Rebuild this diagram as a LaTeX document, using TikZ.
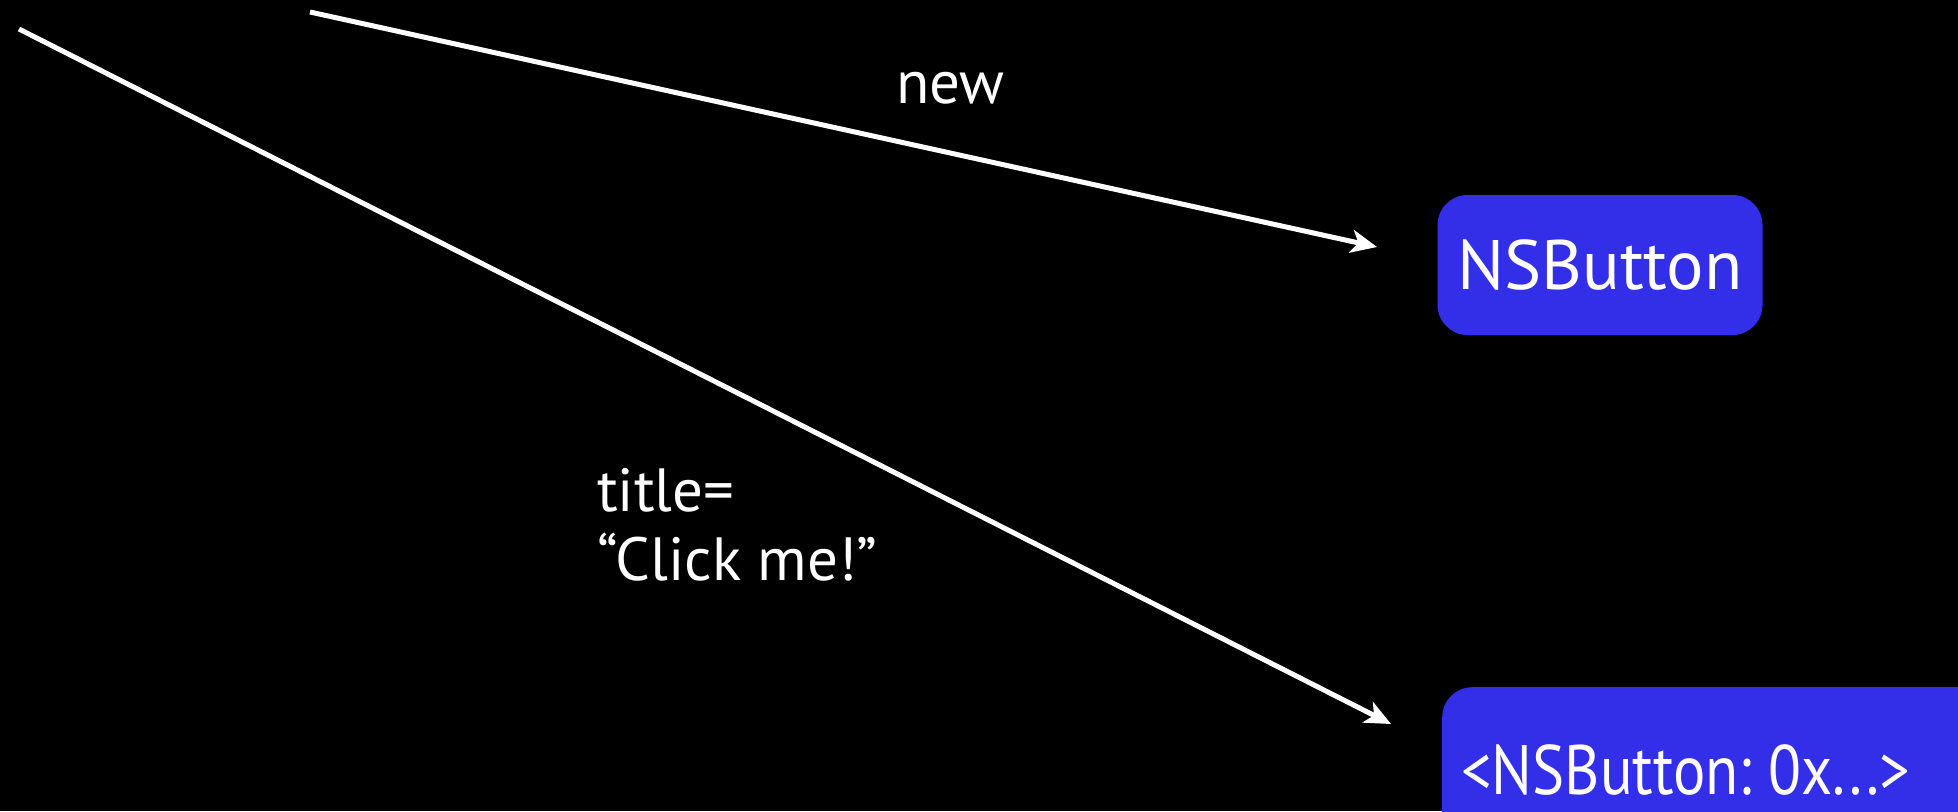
\documentclass[tikz,border=0pt]{standalone}
\usepackage{fontspec}
\usepackage{graphicx}
\setmainfont{PT Sans}
\usetikzlibrary{arrows.meta}
\definecolor{boxblue}{RGB}{51,46,232}
\begin{document}
\begin{tikzpicture}[x=1pt,y=-1pt,
  conn/.style={draw=white,line width=5pt,-{Stealth[length=26pt,width=23pt,inset=7pt]}},
  objbox/.style={fill=boxblue,rounded corners=30pt,text=white,inner sep=0pt},
  lbl/.style={text=white,inner sep=0pt,font=\fontsize{61}{69}\selectfont}]
\useasboundingbox (0,0) rectangle (1958,811);
\fill[black] (0,0) rectangle (1958,811);
\clip (0,0) rectangle (1958,811);
\node[objbox,minimum width=325pt,minimum height=140pt,font=\fontsize{70}{80}\selectfont] (cls) at (1600,265) {NSButton};
\node[objbox,anchor=north west,minimum height=166pt,text width=511pt,align=left,inner xsep=19pt,font=\fontsize{70}{80}\selectfont] (inst) at (1442,687) {\scalebox{0.865}[1]{<NSButton:\kern-4pt\ 0x...>}};
\coordinate (s1) at (310,12);
\coordinate (e1) at (1377,247);
\coordinate (s2) at (19,29);
\coordinate (e2) at (1391,724);
\draw[conn] (s1) -- (e1);
\draw[conn] (s2) -- (e2);
\node[lbl,anchor=base west] (lnew) at (896,103) {new};
\node[lbl,anchor=north west,align=left] (ltitle) at (597,468) {title=\\“Click me!”};
\end{tikzpicture}
\end{document}
